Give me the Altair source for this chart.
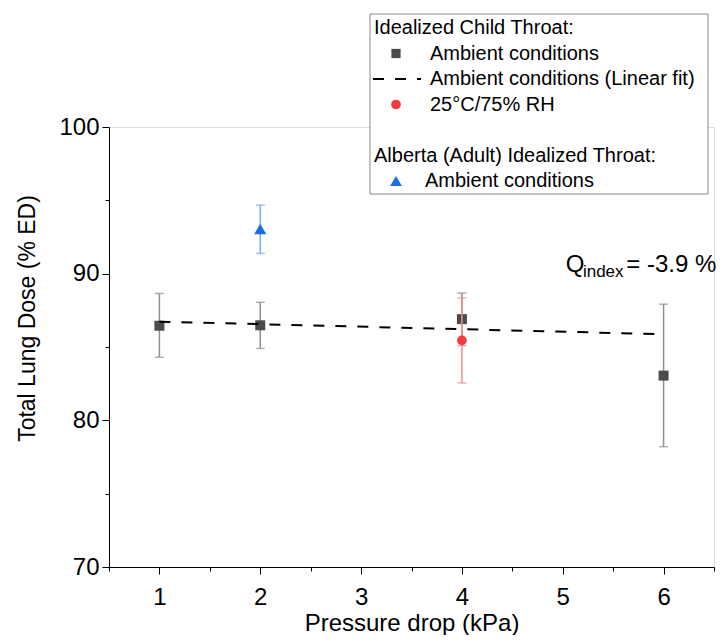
import altair as alt
import pandas as pd

# ---- data ----
child_x = [1, 2, 4, 6]
child_y = [86.45, 86.48, 86.9, 83.05]
child_lo = [84.30, 84.90, 85.10, 78.20]
child_hi = [88.65, 88.05, 88.68, 87.92]

humid_x = [4]
humid_y = [85.45]
humid_lo = [82.55]
humid_hi = [88.35]

adult_x = [2]
adult_y = [93.05]
adult_lo = [91.38]
adult_hi = [94.68]

fit_x = [1, 6]
fit_y = [86.73, 85.87]

x_ticks = [0.5, 1, 1.5, 2, 2.5, 3, 3.5, 4, 4.5, 5, 5.5, 6, 6.5]
y_ticks = [70, 75, 80, 85, 90, 95, 100]

legend_rows = ["Idealized Child Throat:", "Ambient conditions",
               "Ambient conditions (Linear fit)", "25\u00b0C/75% RH", "",
               "Alberta (Adult) Idealized Throat:", "Ambient conditions"]

FONT = "Liberation Sans"
W, H = 605, 440

GREY_ERR = "#8f8f8f"
SQ = "#4b4b4b"
RED = "#f03c3c"
RED_ERR = "#f48c8c"
BLUE = "#1d6fe0"
BLUE_ERR = "#79aef0"

xs = alt.Scale(domain=[0.5, 6.5], nice=False, zero=False)
ys = alt.Scale(domain=[70, 100], nice=False, zero=False)

x_axis = alt.Axis(values=x_ticks,
                  labelExpr="datum.value % 1 === 0 ? format(datum.value, 'd') : ''",
                  tickSize=alt.condition("datum.value % 1 !== 0", alt.value(4), alt.value(7)),
                  grid=False, domainColor="black", tickColor="black", labelColor="black",
                  labelFontSize=24, labelFont=FONT, labelPadding=11,
                  title="Pressure drop (kPa)", titleFontSize=24, titleFont=FONT,
                  titleFontWeight="normal", titleColor="black",
                  titleBaseline="alphabetic", titleY=63)
y_axis = alt.Axis(values=y_ticks, labelExpr="datum.value % 10 === 0 ? datum.label : ''",
                  tickSize=alt.condition("datum.value % 10 !== 0", alt.value(4), alt.value(7)),
                  grid=False, domainColor="black", tickColor="black", labelColor="black",
                  labelFontSize=24, labelFont=FONT, labelPadding=3,
                  title="Total Lung Dose (% ED)", titleFontSize=23, titleFont=FONT,
                  titleFontWeight="normal", titleColor="black", titlePadding=19,
                  titleY=191)

child = pd.DataFrame({"x": child_x, "y": child_y, "lo": child_lo, "hi": child_hi})
humid = pd.DataFrame({"x": humid_x, "y": humid_y, "lo": humid_lo, "hi": humid_hi})
adult = pd.DataFrame({"x": adult_x, "y": adult_y, "lo": adult_lo, "hi": adult_hi})
fit = pd.DataFrame({"x": fit_x, "y": fit_y})


def errbars(df, color):
    rule = alt.Chart(df).mark_rule(color=color, strokeWidth=1.5).encode(
        x=alt.X("x:Q", scale=xs, axis=x_axis), y=alt.Y("lo:Q", scale=ys, axis=y_axis), y2="hi:Q")
    cap_lo = alt.Chart(df).mark_tick(color=color, orient="horizontal", size=9, thickness=1.5).encode(
        x=alt.X("x:Q", scale=xs), y=alt.Y("lo:Q", scale=ys))
    cap_hi = alt.Chart(df).mark_tick(color=color, orient="horizontal", size=9, thickness=1.5).encode(
        x=alt.X("x:Q", scale=xs), y=alt.Y("hi:Q", scale=ys))
    return [rule, cap_lo, cap_hi]


def points(df, shape, color, size):
    return alt.Chart(df).mark_point(shape=shape, filled=True, color=color, size=size, opacity=1).encode(
        x=alt.X("x:Q", scale=xs), y=alt.Y("y:Q", scale=ys))


fit_line = alt.Chart(fit).mark_line(color="black", strokeWidth=2, strokeDash=[11, 11]).encode(
    x=alt.X("x:Q", scale=xs), y=alt.Y("y:Q", scale=ys))

# Q index annotation (data coordinates)
q_df = pd.DataFrame({"x": [5.03], "y": [90.1], "t": ["Q"]})
sub_df = pd.DataFrame({"x": [5.20], "y": [89.75], "t": ["index"]})
eq_df = pd.DataFrame({"x": [5.63], "y": [90.1], "t": ["= -3.9 %"]})


def ann(df, size):
    return alt.Chart(df).mark_text(align="left", baseline="alphabetic", font=FONT, fontSize=size,
                                   color="black").encode(
        x=alt.X("x:Q", scale=xs), y=alt.Y("y:Q", scale=ys), text="t:N")


# ---- legend (pixel layout relative to plot area) ----
row_y = [-99 + 25.5 * i for i in range(len(legend_rows))]
hdr_idx = [0, 5]
leg_text = pd.DataFrame({
    "px": [265 if i in hdr_idx else (316 if i == 6 else 321) for i in range(len(legend_rows))],
    "py": row_y, "t": legend_rows})
leg_text = leg_text[leg_text["t"] != ""]

box = alt.Chart(pd.DataFrame({"a": [0]})).mark_rect(fill="white", stroke="#8a8a8a", strokeWidth=1).encode(
    x=alt.value(261), x2=alt.value(599), y=alt.value(-113), y2=alt.value(67))
legend_txt = alt.Chart(leg_text).mark_text(align="left", baseline="middle", font=FONT, fontSize=20,
                                           color="black").encode(
    x=alt.X("px:Q", scale=None, axis=None), y=alt.Y("py:Q", scale=None, axis=None), text="t:N")


def leg_sym(i, shape, color, size):
    return alt.Chart(pd.DataFrame({"px": [287], "py": [row_y[i]]})).mark_point(
        shape=shape, filled=True, color=color, size=size, opacity=1).encode(
        x=alt.X("px:Q", scale=None, axis=None), y=alt.Y("py:Q", scale=None, axis=None))


leg_line = alt.Chart(pd.DataFrame({"a": [0]})).mark_rule(color="black", strokeWidth=2,
                                                        strokeDash=[11, 11]).encode(
    x=alt.value(264), x2=alt.value(312), y=alt.value(row_y[2]))

layers = (errbars(child, GREY_ERR) + [points(child, "square", SQ, 100)]
          + errbars(humid, RED_ERR) + [points(humid, "circle", RED, 95)]
          + errbars(adult, BLUE_ERR) + [points(adult, "triangle-up", BLUE, 150)]
          + [fit_line, ann(q_df, 24), ann(sub_df, 17), ann(eq_df, 24),
             box, legend_txt,
             leg_sym(1, "square", SQ, 85), leg_line, leg_sym(3, "circle", RED, 95),
             leg_sym(6, "triangle-up", BLUE, 140)])

chart = alt.layer(*layers).properties(
    width=W, height=H,
    autosize=alt.AutoSizeParams(type="none"),
    padding={"left": 101, "top": 119, "right": 4, "bottom": 68},
).configure_view(stroke=None).configure(font=FONT)

chart.save("out.html", embed_options={"renderer": "svg", "actions": False})
